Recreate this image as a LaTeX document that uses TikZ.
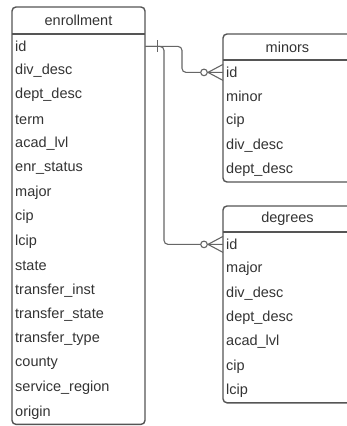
\documentclass[tikz,border=0pt]{standalone}
\usepackage{fontspec}
\setmainfont{Liberation Sans}
\definecolor{boxgray}{HTML}{555555}
\definecolor{txtgray}{HTML}{333333}
\definecolor{linkgray}{HTML}{666666}
\tikzset{
  tbl/.style={draw=boxgray, line width=1.4pt, rounded corners=4pt},
  head/.style={text=txtgray, anchor=center, inner sep=0pt},
  row/.style={text=txtgray, anchor=north west, minimum height=24.4pt,
    inner xsep=3pt, inner ysep=0pt, align=left},
  link/.style={draw=linkgray, line width=1.1pt},
}
\begin{document}
\begin{tikzpicture}[x=1pt, y=-1pt, font=\fontsize{14.5}{17}\selectfont]
    \useasboundingbox (0,0) rectangle (347,426);
    \clip (0,0) rectangle (347,426);

    % enrollment
    \draw[tbl] (12,7) rectangle (145,424.4);
    \draw[boxgray, line width=1.4pt] (12,34) -- (145,34);
    \node[head] (enr) at (78.5,20.5) {enrollment};
    \foreach \f [count=\i from 0] in {id,div\_desc,dept\_desc,term,acad\_lvl,enr\_status,
        major,cip,lcip,state,transfer\_inst,transfer\_state,transfer\_type,county,
        service\_region,origin} {
        \node[row, text width=127pt] (enr-\i) at (12,34+24.4*\i) {\f};
    }

    % minors
    \draw[tbl] (223,34) rectangle (352,182);
    \draw[boxgray, line width=1.4pt] (223,60) -- (352,60);
    \node[head] (min) at (287.5,47) {minors};
    \foreach \f [count=\i from 0] in {id,minor,cip,div\_desc,dept\_desc} {
        \node[row, text width=123pt] (min-\i) at (223,60+24.4*\i) {\f};
    }

    % degrees
    \draw[tbl] (223,206) rectangle (352,402.8);
    \draw[boxgray, line width=1.4pt] (223,232) -- (352,232);
    \node[head] (deg) at (287.5,219) {degrees};
    \foreach \f [count=\i from 0] in {id,major,div\_desc,dept\_desc,acad\_lvl,cip,lcip} {
        \node[row, text width=123pt] (deg-\i) at (223,232+24.4*\i) {\f};
    }

    % links
    \coordinate (bendA) at (182,0);
    \coordinate (bendB) at (164,0);
    \draw[link, rounded corners=4pt] (enr-0.east) -| (bendA |- min-0.west) -- (min-0.west);
    \draw[link, rounded corners=4pt] (enr-0.east) -| (bendB |- deg-0.west) -- (deg-0.west);

    % one
    \draw[link] ([xshift=12pt]enr-0.east) ++(0,-6) -- ++(0,12);

    % zero or many
    \foreach \t in {min-0, deg-0} {
        \draw[link, fill=white] ([xshift=-19pt]\t.west) circle (3.3pt);
        \draw[link] (\t.west) ++(0,-8) -- ++(-15,8) -- ++(15,8);
        \draw[link] (\t.west) ++(-15,0) -- ++(15,0);
    }
\end{tikzpicture}
\end{document}
